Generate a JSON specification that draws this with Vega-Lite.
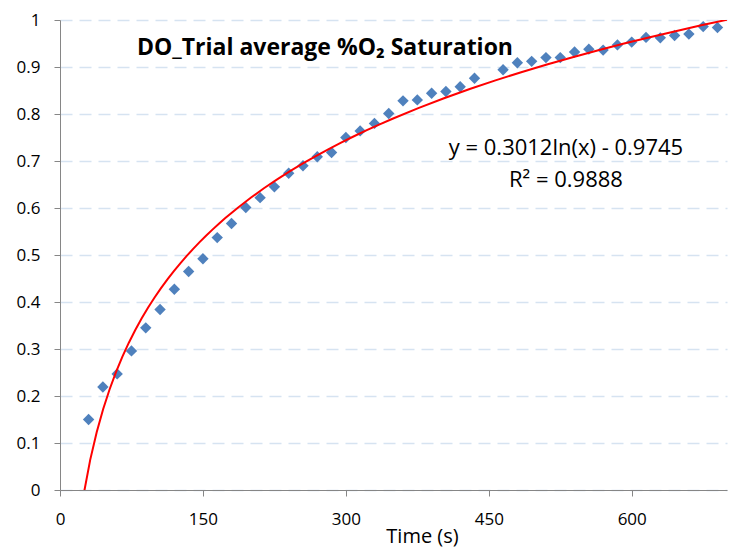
{
  "$schema": "https://vega.github.io/schema/vega-lite/v6.json",
  "width": 667,
  "height": 470,
  "autosize": {"type": "none"},
  "padding": {"left": 60, "top": 20, "right": 7, "bottom": 60},
  "background": "white",
  "config": {"view": {"stroke": null}, "font": "Open Sans"},
  "title": {
    "text": "DO_Trial average %O₂ Saturation",
    "anchor": "start",
    "frame": "group",
    "dx": 77,
    "offset": -67,
    "baseline": "alphabetic",
    "fontSize": 23,
    "fontWeight": "bold",
    "color": "black",
    "font": "Open Sans"
  },
  "data": {
    "values": [
      {"t": 30, "y": 0.150}, {"t": 45, "y": 0.219}, {"t": 60, "y": 0.247}, {"t": 75, "y": 0.296},
      {"t": 90, "y": 0.345}, {"t": 105, "y": 0.384}, {"t": 120, "y": 0.427}, {"t": 135, "y": 0.465},
      {"t": 150, "y": 0.492}, {"t": 165, "y": 0.537}, {"t": 180, "y": 0.567}, {"t": 195, "y": 0.601},
      {"t": 210, "y": 0.622}, {"t": 225, "y": 0.645}, {"t": 240, "y": 0.674}, {"t": 255, "y": 0.690},
      {"t": 270, "y": 0.709}, {"t": 285, "y": 0.718}, {"t": 300, "y": 0.750}, {"t": 315, "y": 0.764},
      {"t": 330, "y": 0.780}, {"t": 345, "y": 0.801}, {"t": 360, "y": 0.828}, {"t": 375, "y": 0.830},
      {"t": 390, "y": 0.844}, {"t": 405, "y": 0.848}, {"t": 420, "y": 0.858}, {"t": 435, "y": 0.876},
      {"t": 465, "y": 0.894}, {"t": 480, "y": 0.909}, {"t": 495, "y": 0.912}, {"t": 510, "y": 0.920},
      {"t": 525, "y": 0.920}, {"t": 540, "y": 0.932}, {"t": 555, "y": 0.938}, {"t": 570, "y": 0.936},
      {"t": 585, "y": 0.947}, {"t": 600, "y": 0.953}, {"t": 615, "y": 0.963}, {"t": 630, "y": 0.962},
      {"t": 645, "y": 0.967}, {"t": 660, "y": 0.970}, {"t": 675, "y": 0.986}, {"t": 690, "y": 0.984}
    ]
  },
  "layer": [
    {
      "mark": {"type": "point", "shape": "diamond", "filled": true, "size": 130, "color": "#4f81bd", "opacity": 1},
      "encoding": {
        "x": {
          "field": "t", "type": "quantitative",
          "scale": {"domain": [0, 700], "nice": false},
          "axis": {
            "title": "Time (s)",
            "values": [0, 150, 300, 450, 600],
            "grid": false,
            "domainColor": "#868686",
            "tickColor": "#868686",
            "tickSize": 6,
            "labelFontSize": 17,
            "labelColor": "black",
            "labelPadding": 15,
            "labelFlush": false,
            "titleFontSize": 20,
            "titleFontWeight": "normal",
            "titleColor": "black",
            "titleX": 362,
            "titleY": 52,
            "titleAlign": "center",
            "titleBaseline": "alphabetic"
          }
        },
        "y": {
          "field": "y", "type": "quantitative",
          "scale": {"domain": [0, 1], "nice": false},
          "axis": {
            "title": null,
            "values": [0, 0.1, 0.2, 0.3, 0.4, 0.5, 0.6, 0.7, 0.8, 0.9, 1],
            "format": "~g",
            "grid": true,
            "gridColor": "#d6e3f1",
            "gridDash": [12, 7],
            "gridWidth": 1.5,
            "domainColor": "#868686",
            "tickColor": "#868686",
            "tickSize": 6,
            "labelFontSize": 17,
            "labelColor": "black",
            "labelPadding": 14,
            "labelFlush": false
          }
        }
      }
    },
    {
      "transform": [{"regression": "y", "on": "t", "method": "log", "extent": [25, 700]}],
      "mark": {"type": "line", "color": "#ff0000", "strokeWidth": 2, "clip": true},
      "encoding": {
        "x": {"field": "t", "type": "quantitative"},
        "y": {"field": "y", "type": "quantitative"}
      }
    },
    {
      "data": {"values": [{"label": "fit"}]},
      "mark": {"type": "text", "align": "center", "baseline": "alphabetic", "fontSize": 22, "lineHeight": 32, "color": "black", "font": "Open Sans"},
      "encoding": {
        "x": {"datum": 531},
        "y": {"datum": 0.713},
        "text": {"value": ["y = 0.3012ln(x) - 0.9745", "R² = 0.9888"]}
      }
    }
  ]
}
